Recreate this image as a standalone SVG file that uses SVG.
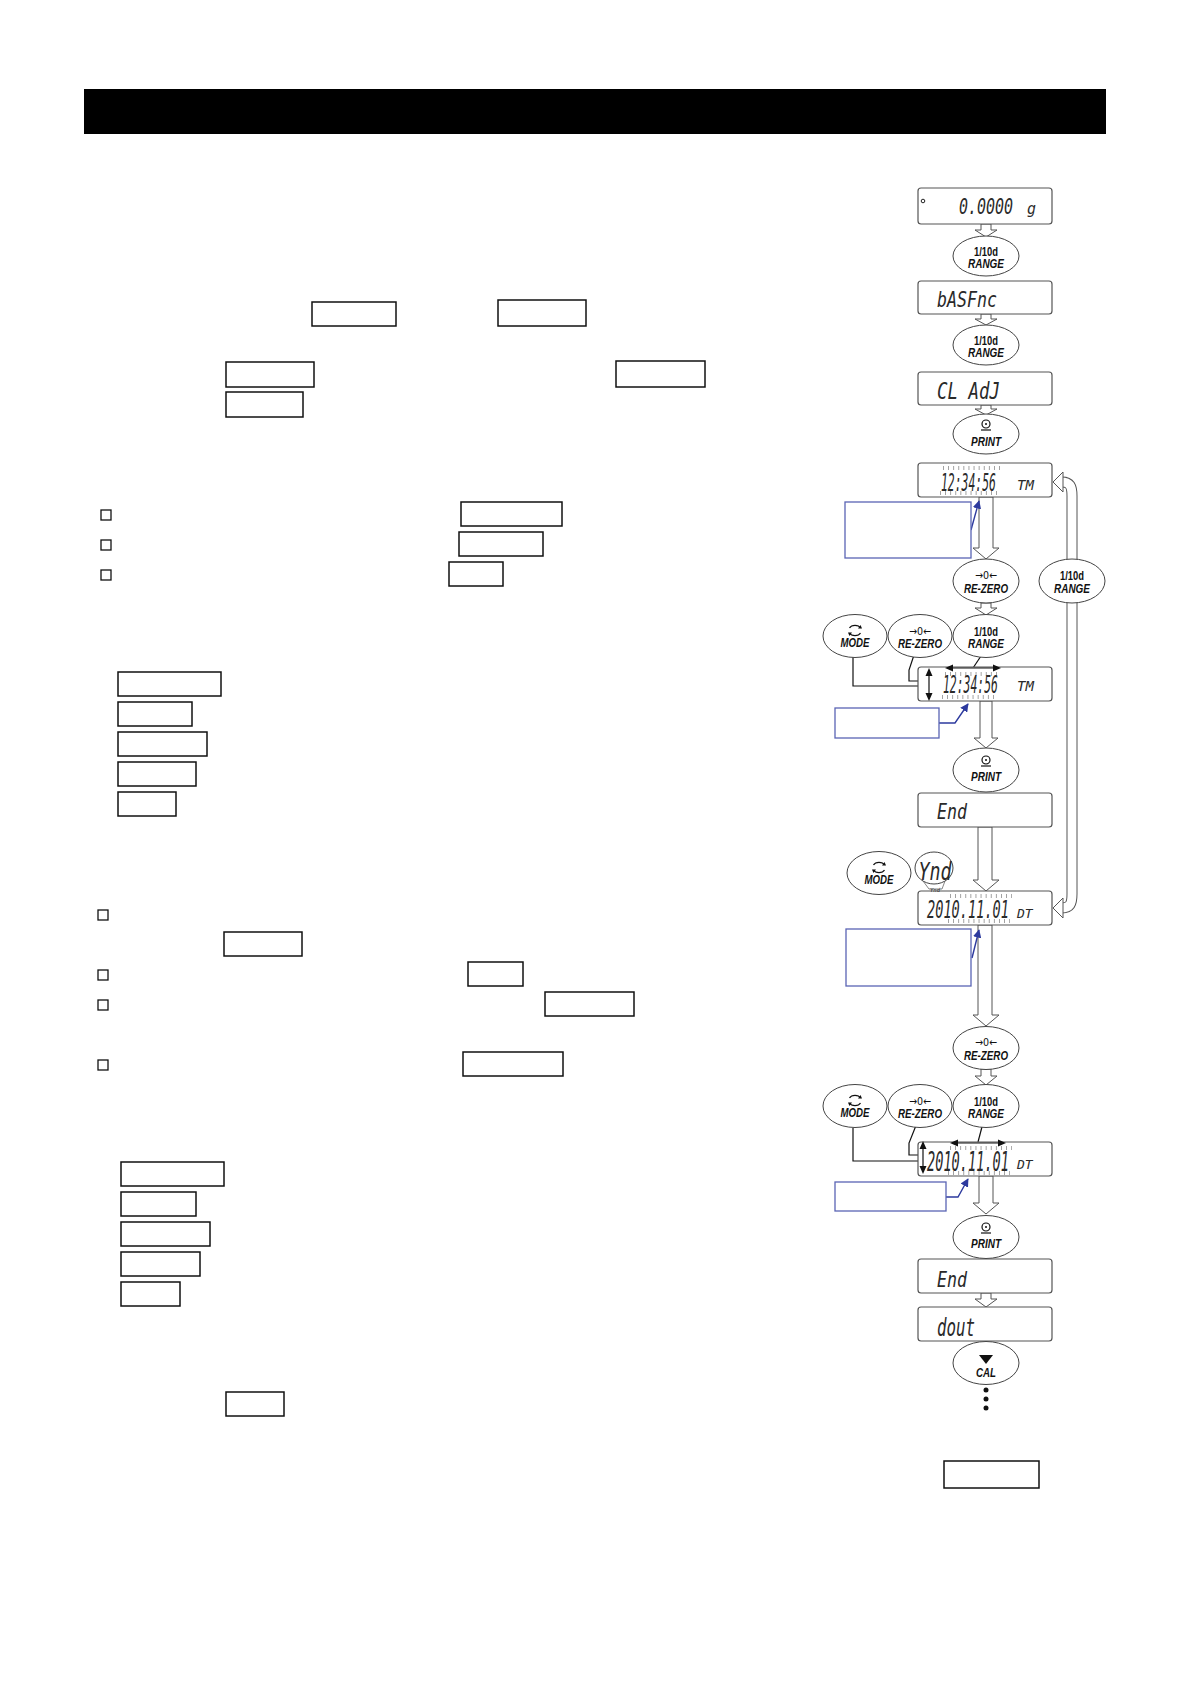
<svg xmlns="http://www.w3.org/2000/svg" width="1190" height="1684" viewBox="0 0 1190 1684">
<style>
.disp{fill:#fff;stroke:#555;stroke-width:1.2}
.btn{fill:#fff;stroke:#444;stroke-width:1}
.seg{font-family:'DejaVu Sans Mono',monospace;font-style:italic;fill:#2a2a2a}
.b1{font-family:'Liberation Sans',Arial,sans-serif;font-weight:bold;font-size:12px;text-anchor:middle;fill:#111}
.ar{font-family:'DejaVu Sans',sans-serif;font-size:11px;text-anchor:middle;fill:#111}
.b2{font-family:'Liberation Sans',Arial,sans-serif;font-weight:bold;font-style:italic;font-size:13px;text-anchor:middle;fill:#111}
.box{fill:#fff;stroke:#111;stroke-width:1.5}
.cb{fill:#fff;stroke:#111;stroke-width:1.3}
.blue{fill:#fff;stroke:#5a64b4;stroke-width:1.3}
.bl{fill:none;stroke:#2d3a9e;stroke-width:1.4}
.fat{fill:#fff;stroke:#555;stroke-width:1}
.ln{fill:none;stroke:#111;stroke-width:1.2}
.tick{stroke:#999;stroke-width:4;stroke-dasharray:0.9 4.2}
.ico{fill:none;stroke:#111;stroke-width:1.2}
</style>
<defs>
<marker id="bh" viewBox="0 0 10 10" refX="9" refY="5" markerWidth="6" markerHeight="6" orient="auto"><path d="M0,0 L10,5 L0,10 z" fill="#2d3a9e"/></marker>
</defs>

<rect x="84" y="89" width="1022" height="45" fill="#000"/>

<g id="left-boxes">
<rect class="box" x="312" y="302" width="84" height="24"/>
<rect class="box" x="498" y="300" width="88" height="26"/>
<rect class="box" x="226" y="362" width="88" height="25"/>
<rect class="box" x="226" y="392" width="77" height="25"/>
<rect class="box" x="616" y="361" width="89" height="26"/>
<rect class="cb" x="101" y="510" width="10" height="10"/>
<rect class="cb" x="101" y="540" width="10" height="10"/>
<rect class="cb" x="101" y="570" width="10" height="10"/>
<rect class="box" x="461" y="502" width="101" height="24"/>
<rect class="box" x="459" y="532" width="84" height="24"/>
<rect class="box" x="449" y="562" width="54" height="24"/>
<rect class="box" x="118" y="672" width="103" height="24"/>
<rect class="box" x="118" y="702" width="74" height="24"/>
<rect class="box" x="118" y="732" width="89" height="24"/>
<rect class="box" x="118" y="762" width="78" height="24"/>
<rect class="box" x="118" y="792" width="58" height="24"/>
<rect class="cb" x="98" y="910" width="10" height="10"/>
<rect class="cb" x="98" y="970" width="10" height="10"/>
<rect class="cb" x="98" y="1000" width="10" height="10"/>
<rect class="cb" x="98" y="1060" width="10" height="10"/>
<rect class="box" x="224" y="932" width="78" height="24"/>
<rect class="box" x="468" y="962" width="55" height="24"/>
<rect class="box" x="545" y="992" width="89" height="24"/>
<rect class="box" x="463" y="1052" width="100" height="24"/>
<rect class="box" x="121" y="1162" width="103" height="24"/>
<rect class="box" x="121" y="1192" width="75" height="24"/>
<rect class="box" x="121" y="1222" width="89" height="24"/>
<rect class="box" x="121" y="1252" width="79" height="24"/>
<rect class="box" x="121" y="1282" width="59" height="24"/>
<rect class="box" x="226" y="1392" width="58" height="24"/>
<rect class="box" x="944" y="1461" width="95" height="27"/>
</g>

<g id="connectors">
<polygon class="fat" points="981,224 991,224 991,230 997,230 986,237 975,230 981,230"/>
<polygon class="fat" points="981,314 991,314 991,319 997,319 986,325 975,319 981,319"/>
<polygon class="fat" points="981,405 991,405 991,409 997,409 986,415 975,409 981,409"/>
<polygon class="fat" points="979,497 993,497 993,548 999,548 986,559 973,548 979,548"/>
<polygon class="fat" points="981,603 991,603 991,608 997,608 986,615 975,608 981,608"/>
<polygon class="fat" points="980,701 992,701 992,738 998,738 986,748 974,738 980,738"/>
<polygon class="fat" points="978,827 992,827 992,880 999,880 986,891 973,880 978,880"/>
<polygon class="fat" points="978,925 992,925 992,1015 999,1015 986,1026 973,1015 978,1015"/>
<polygon class="fat" points="981,1069 991,1069 991,1076 997,1076 986,1085 975,1076 981,1076"/>
<polygon class="fat" points="979,1176 993,1176 993,1203 999,1203 986,1214 973,1203 979,1203"/>
<polygon class="fat" points="981,1293 991,1293 991,1299 997,1299 986,1307 975,1299 981,1299"/>
<path d="M1062 482 C1070 482 1072 486 1072 496 L1072 894 C1072 904 1070 908 1062 908" fill="none" stroke="#555" stroke-width="11"/>
<path d="M1061 482 C1070 482 1072 486 1072 496 L1072 894 C1072 904 1070 908 1061 908" fill="none" stroke="#fff" stroke-width="9"/>
<polygon class="fat" points="1053,482 1063,472 1063,492"/>
<polygon class="fat" points="1053,908 1063,898 1063,918"/>
<polyline class="ln" points="853,657 853,686 927,686"/>
<polyline class="ln" points="915,652 909,670 909,681 927,681"/>
<line class="ln" x1="983" y1="653" x2="973" y2="668"/>
<polyline class="ln" points="853,1128 853,1161 921,1161"/>
<polyline class="ln" points="917,1123 909,1143 909,1155 921,1155"/>
<line class="ln" x1="983" y1="1123" x2="978" y2="1142"/>
<line class="bl" x1="971" y1="530" x2="979" y2="501" marker-end="url(#bh)"/>
<polyline class="bl" points="939,723 955,723 968,704" marker-end="url(#bh)"/>
<line class="bl" x1="972" y1="958" x2="979" y2="930" marker-end="url(#bh)"/>
<polyline class="bl" points="946,1197 958,1197 968,1179" marker-end="url(#bh)"/>
</g>

<g id="disp-zero">
<rect class="disp" x="918" y="188" width="134" height="36" rx="3"/>
<circle cx="923" cy="201" r="1.8" fill="none" stroke="#222" stroke-width="1"/>
<text class="seg" x="959" y="214" font-size="15" textLength="54" lengthAdjust="spacingAndGlyphs" transform="translate(0,214) scale(1,1.45) translate(0,-214)">0.0000</text>
<text class="seg" x="1027" y="214" font-size="16" textLength="9" lengthAdjust="spacingAndGlyphs">g</text>
</g>
<g id="disp-basfnc">
<rect class="disp" x="918" y="281" width="134" height="33" rx="3"/>
<text class="seg" x="937" y="307" font-size="21" textLength="60" lengthAdjust="spacingAndGlyphs">bASFnc</text>
</g>
<g id="disp-cladj">
<rect class="disp" x="918" y="372" width="134" height="33" rx="3"/>
<text class="seg" x="937" y="399" font-size="23" textLength="63" lengthAdjust="spacingAndGlyphs">CL AdJ</text>
</g>
<g id="disp-time1">
<rect class="disp" x="918" y="463" width="134" height="34" rx="3"/>
<line class="tick" x1="943" y1="468" x2="1000" y2="468"/>
<line class="tick" x1="940" y1="493" x2="998" y2="493"/>
<text class="seg" x="941" y="491" font-size="15" textLength="55" lengthAdjust="spacingAndGlyphs" transform="translate(0,491) scale(1,1.7) translate(0,-491)">12:34:56</text>
<text class="seg" x="1017" y="490" font-size="14">TM</text>
</g>
<g id="disp-time2">
<rect class="disp" x="918" y="667" width="134" height="34" rx="3"/>
<line class="tick" x1="945" y1="674" x2="1000" y2="674"/>
<line class="tick" x1="942" y1="697" x2="998" y2="697"/>
<text class="seg" x="943" y="693" font-size="15" textLength="55" lengthAdjust="spacingAndGlyphs" transform="translate(0,693) scale(1,1.7) translate(0,-693)">12:34:56</text>
<text class="seg" x="1017" y="691" font-size="14">TM</text>
<line class="ln" x1="929" y1="674" x2="929" y2="695"/>
<polygon points="929,668 925.5,676 932.5,676" fill="#111"/>
<polygon points="929,701 925.5,693 932.5,693" fill="#111"/>
<line class="ln" x1="951" y1="668" x2="994" y2="668"/>
<polygon points="945,668 953,664.5 953,671.5" fill="#111"/>
<polygon points="1001,668 993,664.5 993,671.5" fill="#111"/>
</g>
<g id="disp-end1">
<rect class="disp" x="918" y="793" width="134" height="34" rx="3"/>
<text class="seg" x="937" y="819" font-size="22" textLength="30" lengthAdjust="spacingAndGlyphs">End</text>
</g>
<g id="disp-date1">
<rect class="disp" x="918" y="891" width="134" height="34" rx="3"/>
<line class="tick" x1="950" y1="896" x2="1012" y2="896"/>
<line class="tick" x1="948" y1="921" x2="1010" y2="921"/>
<text class="seg" x="927" y="918" font-size="14" textLength="82" lengthAdjust="spacingAndGlyphs" transform="translate(0,918) scale(1,1.8) translate(0,-918)">2010.11.01</text>
<text class="seg" x="1017" y="918" font-size="13">DT</text>
</g>
<g id="disp-date2">
<rect class="disp" x="918" y="1142" width="134" height="34" rx="3"/>
<line class="tick" x1="950" y1="1148" x2="1012" y2="1148"/>
<line class="tick" x1="948" y1="1173" x2="1010" y2="1173"/>
<text class="seg" x="927" y="1171" font-size="14" textLength="82" lengthAdjust="spacingAndGlyphs" transform="translate(0,1171) scale(1,1.9) translate(0,-1171)">2010.11.01</text>
<text class="seg" x="1017" y="1169" font-size="13">DT</text>
<line class="ln" x1="923" y1="1147" x2="923" y2="1168"/>
<polygon points="923,1141 919.5,1149 926.5,1149" fill="#111"/>
<polygon points="923,1174 919.5,1166 926.5,1166" fill="#111"/>
<line class="ln" x1="956" y1="1143" x2="999" y2="1143"/>
<polygon points="950,1143 958,1139.5 958,1146.5" fill="#111"/>
<polygon points="1006,1143 998,1139.5 998,1146.5" fill="#111"/>
</g>
<g id="disp-end2">
<rect class="disp" x="918" y="1259" width="134" height="34" rx="3"/>
<text class="seg" x="937" y="1287" font-size="22" textLength="30" lengthAdjust="spacingAndGlyphs">End</text>
</g>
<g id="disp-dout">
<rect class="disp" x="918" y="1307" width="134" height="34" rx="3"/>
<text class="seg" x="937" y="1336" font-size="24" textLength="38" lengthAdjust="spacingAndGlyphs">dout</text>
</g>

<g id="btn-range1">
<ellipse class="btn" cx="986" cy="256" rx="33" ry="20"/>
<text class="b1" x="986" y="256" textLength="24" lengthAdjust="spacingAndGlyphs">1/10d</text>
<text class="b2" x="986" y="268" textLength="36" lengthAdjust="spacingAndGlyphs">RANGE</text>
</g>
<g id="btn-range2">
<ellipse class="btn" cx="986" cy="345" rx="33" ry="20"/>
<text class="b1" x="986" y="345" textLength="24" lengthAdjust="spacingAndGlyphs">1/10d</text>
<text class="b2" x="986" y="357" textLength="36" lengthAdjust="spacingAndGlyphs">RANGE</text>
</g>
<g id="btn-print1">
<ellipse class="btn" cx="986" cy="434" rx="33" ry="20"/>
<circle class="ico" cx="986" cy="424" r="4"/>
<circle cx="986" cy="424" r="1" fill="#111"/>
<line class="ico" x1="981" y1="430" x2="991" y2="430"/>
<text class="b2" x="986" y="446" textLength="30" lengthAdjust="spacingAndGlyphs">PRINT</text>
</g>
<g id="btn-rezero1">
<ellipse class="btn" cx="986" cy="581" rx="33" ry="22"/>
<text class="ar" x="986" y="579" textLength="22" lengthAdjust="spacingAndGlyphs">→0←</text>
<text class="b2" x="986" y="593" textLength="44" lengthAdjust="spacingAndGlyphs">RE-ZERO</text>
</g>
<g id="btn-range-loop">
<ellipse class="btn" cx="1072" cy="581" rx="33" ry="22"/>
<text class="b1" x="1072" y="580" textLength="24" lengthAdjust="spacingAndGlyphs">1/10d</text>
<text class="b2" x="1072" y="593" textLength="36" lengthAdjust="spacingAndGlyphs">RANGE</text>
</g>
<g id="btn-mode1">
<ellipse class="btn" cx="855" cy="636" rx="32" ry="21.5"/>
<path class="ico" d="M849.5 628 A6 4.5 0 0 1 860.5 628"/>
<path class="ico" d="M860.5 633 A6 4.5 0 0 1 849.5 633"/>
<polygon points="858,628.5 862,628.5 860.5,625" fill="#111"/>
<polygon points="852,632.5 848,632.5 849.5,636" fill="#111"/>
<text class="b2" x="855" y="647" textLength="29" lengthAdjust="spacingAndGlyphs">MODE</text>
</g>
<g id="btn-rezero2">
<ellipse class="btn" cx="920" cy="636" rx="32" ry="21.5"/>
<text class="ar" x="920" y="635" textLength="22" lengthAdjust="spacingAndGlyphs">→0←</text>
<text class="b2" x="920" y="648" textLength="44" lengthAdjust="spacingAndGlyphs">RE-ZERO</text>
</g>
<g id="btn-range3">
<ellipse class="btn" cx="986" cy="636" rx="33" ry="21.5"/>
<text class="b1" x="986" y="636" textLength="24" lengthAdjust="spacingAndGlyphs">1/10d</text>
<text class="b2" x="986" y="648" textLength="36" lengthAdjust="spacingAndGlyphs">RANGE</text>
</g>
<g id="btn-print2">
<ellipse class="btn" cx="986" cy="770" rx="33" ry="22"/>
<circle class="ico" cx="986" cy="760" r="4"/>
<circle cx="986" cy="760" r="1" fill="#111"/>
<line class="ico" x1="981" y1="766" x2="991" y2="766"/>
<text class="b2" x="986" y="781" textLength="30" lengthAdjust="spacingAndGlyphs">PRINT</text>
</g>
<g id="btn-mode2">
<ellipse class="btn" cx="879" cy="873" rx="32" ry="21.5"/>
<path class="ico" d="M873.5 865 A6 4.5 0 0 1 884.5 865"/>
<path class="ico" d="M884.5 870 A6 4.5 0 0 1 873.5 870"/>
<polygon points="882,865.5 886,865.5 884.5,862" fill="#111"/>
<polygon points="876,869.5 872,869.5 873.5,873" fill="#111"/>
<text class="b2" x="879" y="884" textLength="29" lengthAdjust="spacingAndGlyphs">MODE</text>
</g>
<g id="bubble-ynd">
<polygon points="923,881 929,889 942,889 945,881" fill="#fff" stroke="#666" stroke-width="0.8"/>
<ellipse class="btn" cx="934" cy="868" rx="19" ry="16"/>
<text class="seg" x="935" y="880" font-size="18" text-anchor="middle" textLength="33" lengthAdjust="spacingAndGlyphs" transform="translate(0,880) scale(1,1.35) translate(0,-880)">Ynd</text>
<text class="seg" x="935" y="892" font-size="5.5" text-anchor="middle">Ynd</text>
</g>
<g id="btn-rezero3">
<ellipse class="btn" cx="986" cy="1048" rx="33" ry="21.5"/>
<text class="ar" x="986" y="1046" textLength="22" lengthAdjust="spacingAndGlyphs">→0←</text>
<text class="b2" x="986" y="1060" textLength="44" lengthAdjust="spacingAndGlyphs">RE-ZERO</text>
</g>
<g id="btn-mode3">
<ellipse class="btn" cx="855" cy="1106" rx="32" ry="21.5"/>
<path class="ico" d="M849.5 1098 A6 4.5 0 0 1 860.5 1098"/>
<path class="ico" d="M860.5 1103 A6 4.5 0 0 1 849.5 1103"/>
<polygon points="858,1098.5 862,1098.5 860.5,1095" fill="#111"/>
<polygon points="852,1102.5 848,1102.5 849.5,1106" fill="#111"/>
<text class="b2" x="855" y="1117" textLength="29" lengthAdjust="spacingAndGlyphs">MODE</text>
</g>
<g id="btn-rezero4">
<ellipse class="btn" cx="920" cy="1106" rx="32" ry="21.5"/>
<text class="ar" x="920" y="1105" textLength="22" lengthAdjust="spacingAndGlyphs">→0←</text>
<text class="b2" x="920" y="1118" textLength="44" lengthAdjust="spacingAndGlyphs">RE-ZERO</text>
</g>
<g id="btn-range4">
<ellipse class="btn" cx="986" cy="1106" rx="33" ry="21.5"/>
<text class="b1" x="986" y="1106" textLength="24" lengthAdjust="spacingAndGlyphs">1/10d</text>
<text class="b2" x="986" y="1118" textLength="36" lengthAdjust="spacingAndGlyphs">RANGE</text>
</g>
<g id="btn-print3">
<ellipse class="btn" cx="986" cy="1237" rx="33" ry="21.5"/>
<circle class="ico" cx="986" cy="1227" r="4"/>
<circle cx="986" cy="1227" r="1" fill="#111"/>
<line class="ico" x1="981" y1="1233" x2="991" y2="1233"/>
<text class="b2" x="986" y="1248" textLength="30" lengthAdjust="spacingAndGlyphs">PRINT</text>
</g>
<g id="btn-cal">
<ellipse class="btn" cx="986" cy="1363" rx="33" ry="21.5"/>
<polygon points="979,1355 993,1355 986,1364" fill="#111"/>
<text class="b2" x="986" y="1377" textLength="20" lengthAdjust="spacingAndGlyphs">CAL</text>
</g>
<g id="dots">
<circle cx="986" cy="1390" r="2.5" fill="#111"/>
<circle cx="986" cy="1399" r="2.5" fill="#111"/>
<circle cx="986" cy="1408" r="2.5" fill="#111"/>
</g>

<g id="notes">
<rect class="blue" x="845" y="502" width="126" height="56"/>
<rect class="blue" x="835" y="708" width="104" height="30"/>
<rect class="blue" x="846" y="929" width="125" height="57"/>
<rect class="blue" x="835" y="1182" width="111" height="29"/>
</g>
</svg>
